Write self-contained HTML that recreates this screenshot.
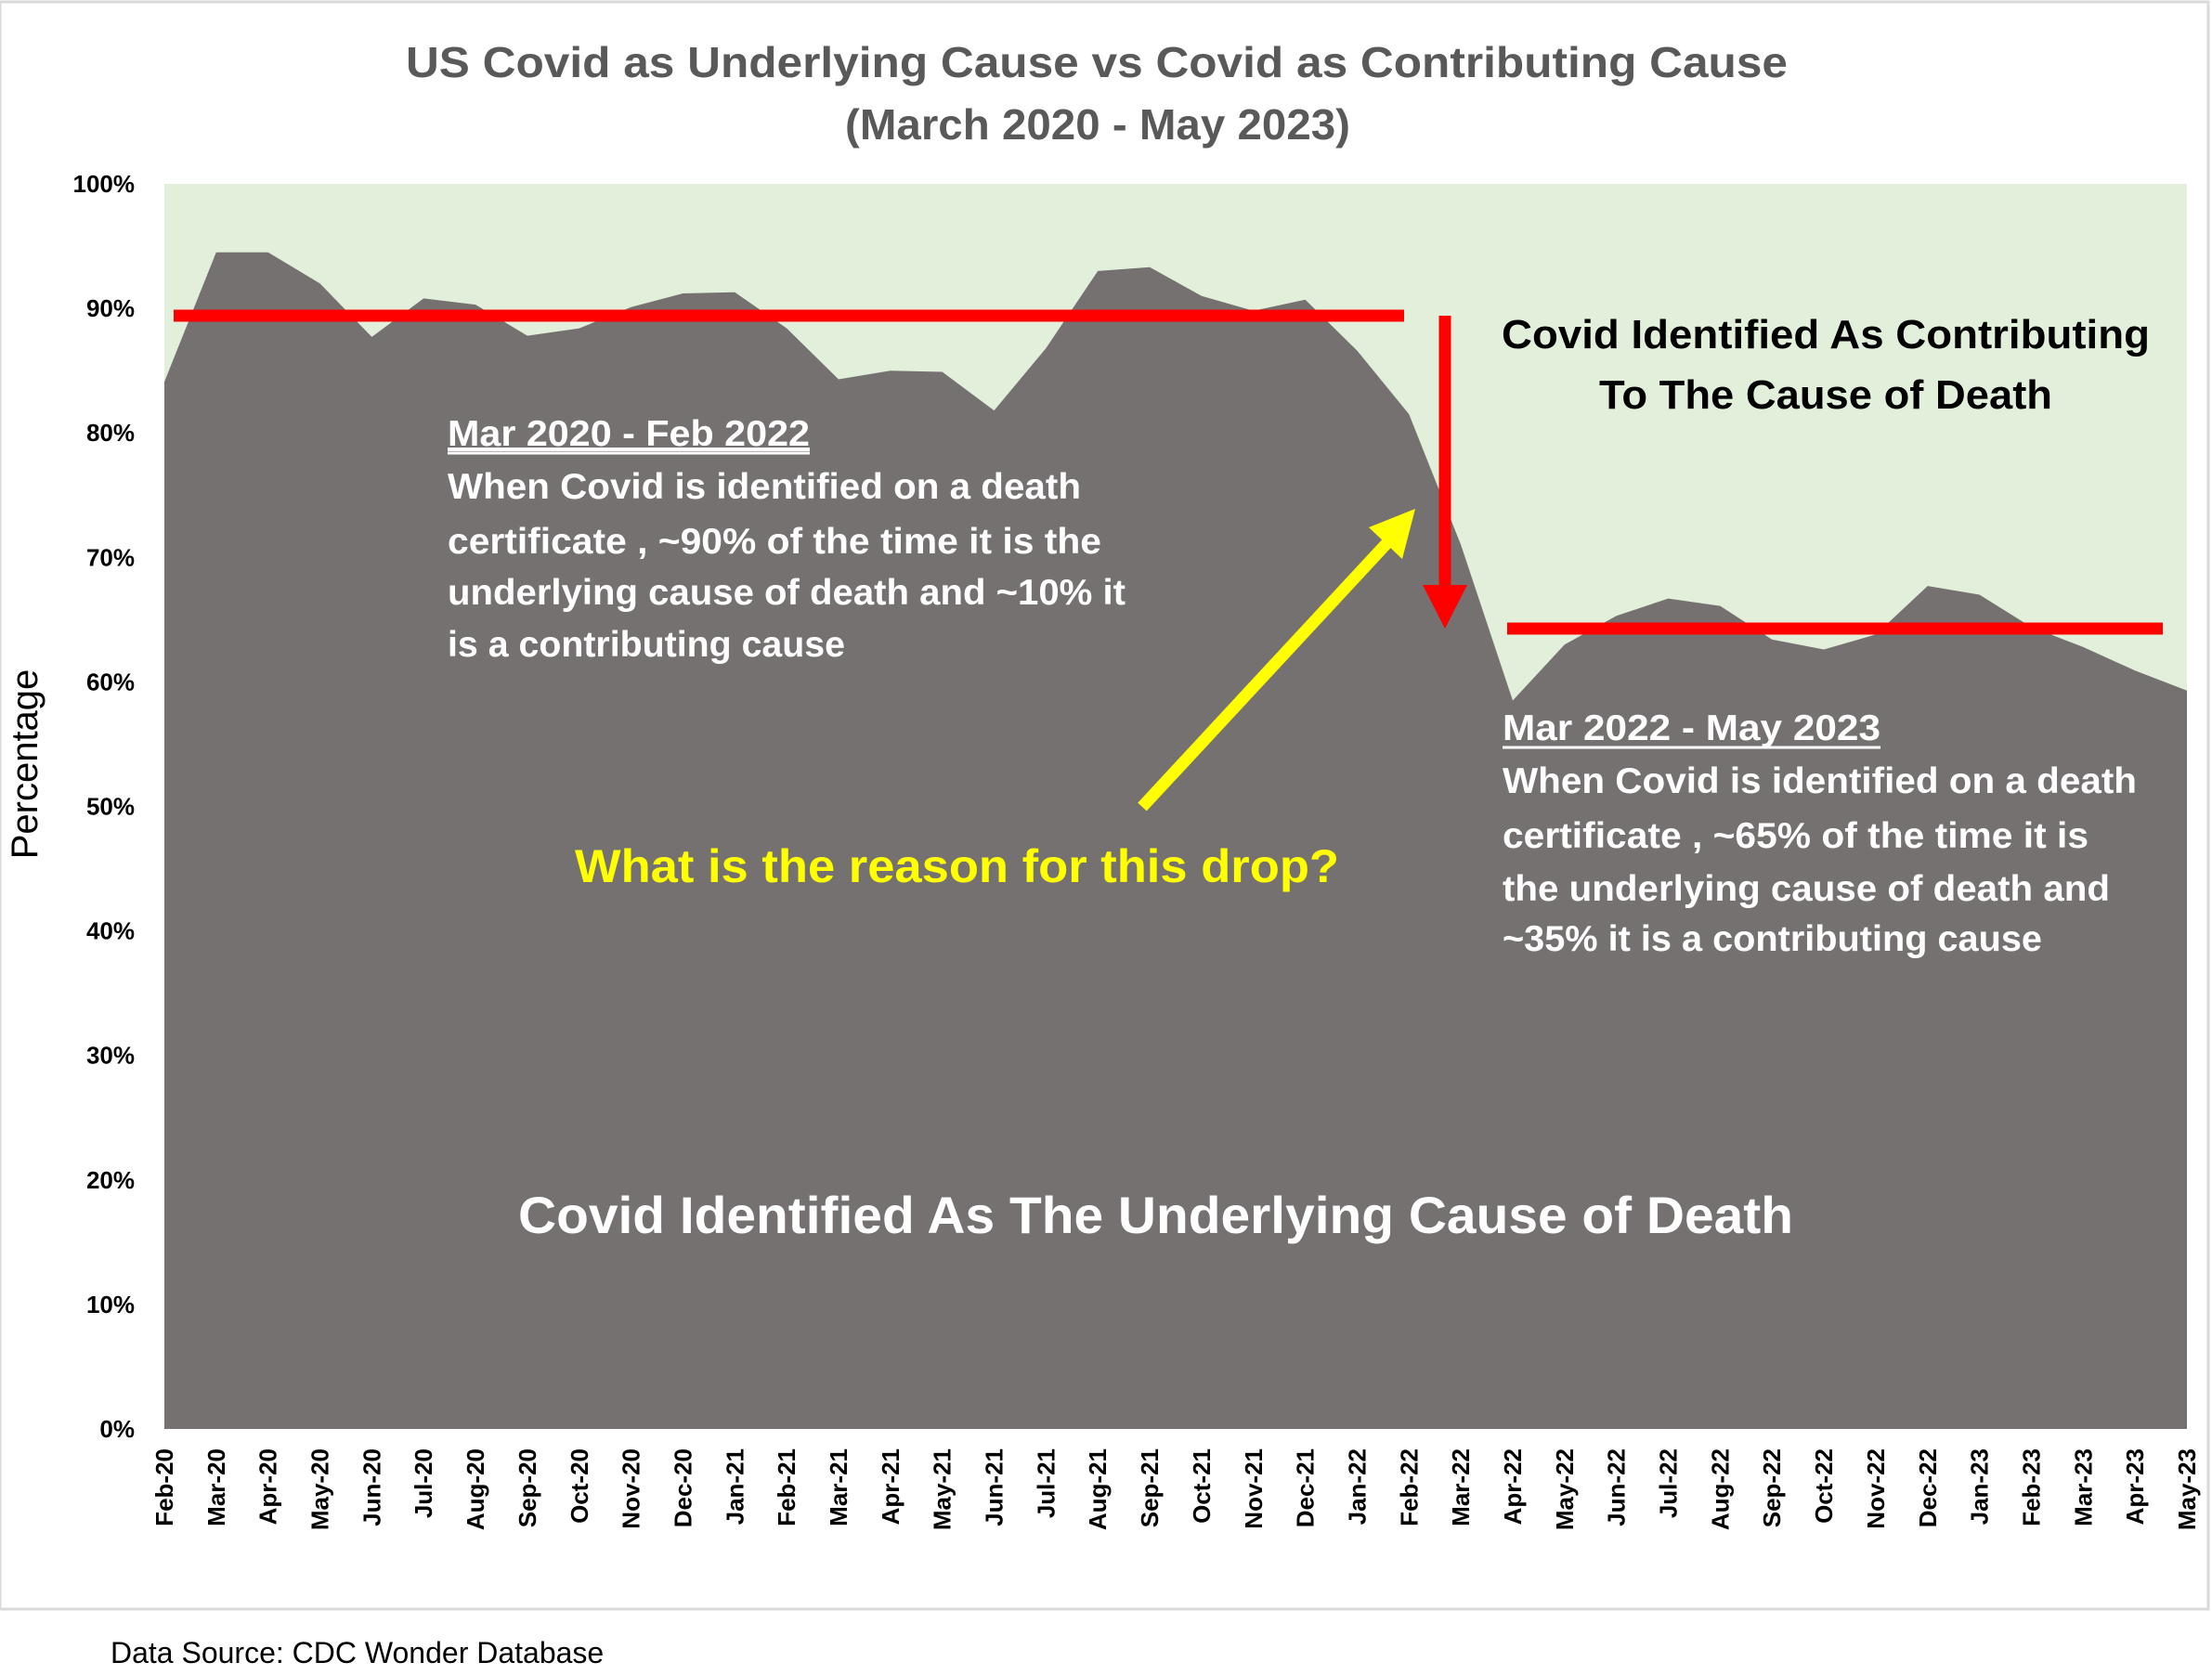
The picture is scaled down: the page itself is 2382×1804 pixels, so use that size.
<!DOCTYPE html>
<html><head><meta charset="utf-8"><style>
html,body{margin:0;padding:0;background:#fff;}
svg{display:block;font-family:"Liberation Sans",sans-serif;}
</style></head><body>
<svg id="chart" width="2382" height="1804" viewBox="0 0 2382 1804">
<rect x="0" y="2" width="2378" height="1731" fill="#fff" stroke="#d9d9d9" stroke-width="3"/>
<text x="1181" y="83" text-anchor="middle" font-size="46" font-weight="bold" fill="#595959" textLength="1488" lengthAdjust="spacingAndGlyphs">US Covid as Underlying Cause vs Covid as Contributing Cause</text>
<text x="1182" y="150" text-anchor="middle" font-size="46" font-weight="bold" fill="#595959" textLength="544" lengthAdjust="spacingAndGlyphs">(March 2020 - May 2023)</text>
<rect x="177" y="198" width="2178" height="1341" fill="#e2efda"/>
<g id="yaxis"></g>
<path id="area" fill="#767171"/>
<g id="xaxis"></g>
<text transform="translate(40,823) rotate(-90)" text-anchor="middle" font-size="40" fill="#000">Percentage</text>
<!-- annotations -->
<line x1="187" y1="340" x2="1512" y2="340" stroke="#ff0000" stroke-width="13"/>
<line x1="1623" y1="677" x2="2329" y2="677" stroke="#ff0000" stroke-width="13"/>
<line x1="1556" y1="340" x2="1556" y2="635" stroke="#ff0000" stroke-width="13"/>
<polygon points="1532,630 1580,630 1556,677" fill="#ff0000"/>
<line x1="1230" y1="869" x2="1500" y2="578" stroke="#ffff00" stroke-width="13"/>
<polygon points="1524,548 1474,568 1510,602" fill="#ffff00"/>
<g font-weight="bold" fill="#000" font-size="44">
<text x="1966" y="375" text-anchor="middle" textLength="698" lengthAdjust="spacingAndGlyphs">Covid Identified As Contributing</text>
<text x="1966" y="440" text-anchor="middle" textLength="488" lengthAdjust="spacingAndGlyphs">To The Cause of Death</text>
</g>
<g font-weight="bold" fill="#fff" font-size="39">
<text x="482" y="480" textLength="390" lengthAdjust="spacingAndGlyphs" text-decoration="underline">Mar 2020 - Feb 2022</text>
<line x1="482" y1="488" x2="872" y2="488" stroke="#fff" stroke-width="3"/>
<text x="482" y="537" textLength="682" lengthAdjust="spacingAndGlyphs">When Covid is identified on a death</text>
<text x="482" y="596" textLength="704" lengthAdjust="spacingAndGlyphs">certificate , ~90% of the time it is the</text>
<text x="482" y="651" textLength="730" lengthAdjust="spacingAndGlyphs">underlying cause of death and ~10% it</text>
<text x="482" y="707" textLength="428" lengthAdjust="spacingAndGlyphs">is a contributing cause</text>
</g>
<g font-weight="bold" fill="#fff" font-size="39">
<text x="1618" y="797" textLength="407" lengthAdjust="spacingAndGlyphs">Mar 2022 - May 2023</text>
<line x1="1618" y1="805" x2="2025" y2="805" stroke="#fff" stroke-width="3"/>
<text x="1618" y="854" textLength="683" lengthAdjust="spacingAndGlyphs">When Covid is identified on a death</text>
<text x="1618" y="913" textLength="631" lengthAdjust="spacingAndGlyphs">certificate , ~65% of the time it is</text>
<text x="1618" y="970" textLength="654" lengthAdjust="spacingAndGlyphs">the underlying cause of death and</text>
<text x="1618" y="1024" textLength="581" lengthAdjust="spacingAndGlyphs">~35% it is a contributing cause</text>
</g>
<text x="619" y="950" font-size="50" font-weight="bold" fill="#ffff00" textLength="823" lengthAdjust="spacingAndGlyphs">What  is the reason for this drop?</text>
<text x="558" y="1328" font-size="56" font-weight="bold" fill="#fff" textLength="1373" lengthAdjust="spacingAndGlyphs">Covid Identified As The Underlying Cause of Death</text>
<text x="119" y="1791" font-size="32" fill="#000">Data Source:  CDC Wonder Database</text>
</svg>
<script>
const categories = ["Feb-20","Mar-20","Apr-20","May-20","Jun-20","Jul-20","Aug-20","Sep-20","Oct-20","Nov-20","Dec-20","Jan-21","Feb-21","Mar-21","Apr-21","May-21","Jun-21","Jul-21","Aug-21","Sep-21","Oct-21","Nov-21","Dec-21","Jan-22","Feb-22","Mar-22","Apr-22","May-22","Jun-22","Jul-22","Aug-22","Sep-22","Oct-22","Nov-22","Dec-22","Jan-23","Feb-23","Mar-23","Apr-23","May-23"];
const underlyingPct = [84.1,94.5,94.5,92,87.7,90.8,90.3,87.8,88.4,90.1,91.2,91.3,88.4,84.3,85,84.9,81.8,86.8,93,93.3,91,89.8,90.7,86.6,81.5,71,58.5,63,65.3,66.7,66.1,63.4,62.6,63.8,67.7,67,64.4,62.8,60.9,59.3];
const yTicks = [0,10,20,30,40,50,60,70,80,90,100];
const yTickLabels = ["0%","10%","20%","30%","40%","50%","60%","70%","80%","90%","100%"];

const X0=177, X1=2355, Y0=1539, Y1=198;
const xPos = i => X0 + (X1-X0)*i/(categories.length-1);
const yPos = v => Y0 - (Y0-Y1)*v/100;
const NS="http://www.w3.org/2000/svg";

let d = "M"+X0+","+Y0;
underlyingPct.forEach((v,i)=>{ d += " L"+xPos(i).toFixed(1)+","+yPos(v).toFixed(1); });
d += " L"+X1+","+Y0+" Z";
document.getElementById('area').setAttribute('d', d);

const ya = document.getElementById('yaxis');
yTicks.forEach((t,i)=>{
  const tx=document.createElementNS(NS,'text');
  
  
  tx.setAttribute('x',145); tx.setAttribute('y',yPos(t)+9);
  tx.setAttribute('text-anchor','end'); tx.setAttribute('font-size','26'); tx.setAttribute('font-weight','bold');
  tx.textContent=yTickLabels[i]; ya.appendChild(tx);
});
const xa = document.getElementById('xaxis');
categories.forEach((c,i)=>{
  const tx=document.createElementNS(NS,'text');
  
  
  const x=xPos(i)+9, y=1560;
  tx.setAttribute('transform','translate('+x+','+y+') rotate(-90)');
  tx.setAttribute('text-anchor','end'); tx.setAttribute('font-size','26'); tx.setAttribute('font-weight','bold');
  tx.textContent=c; xa.appendChild(tx);
});
</script>
</body></html>
